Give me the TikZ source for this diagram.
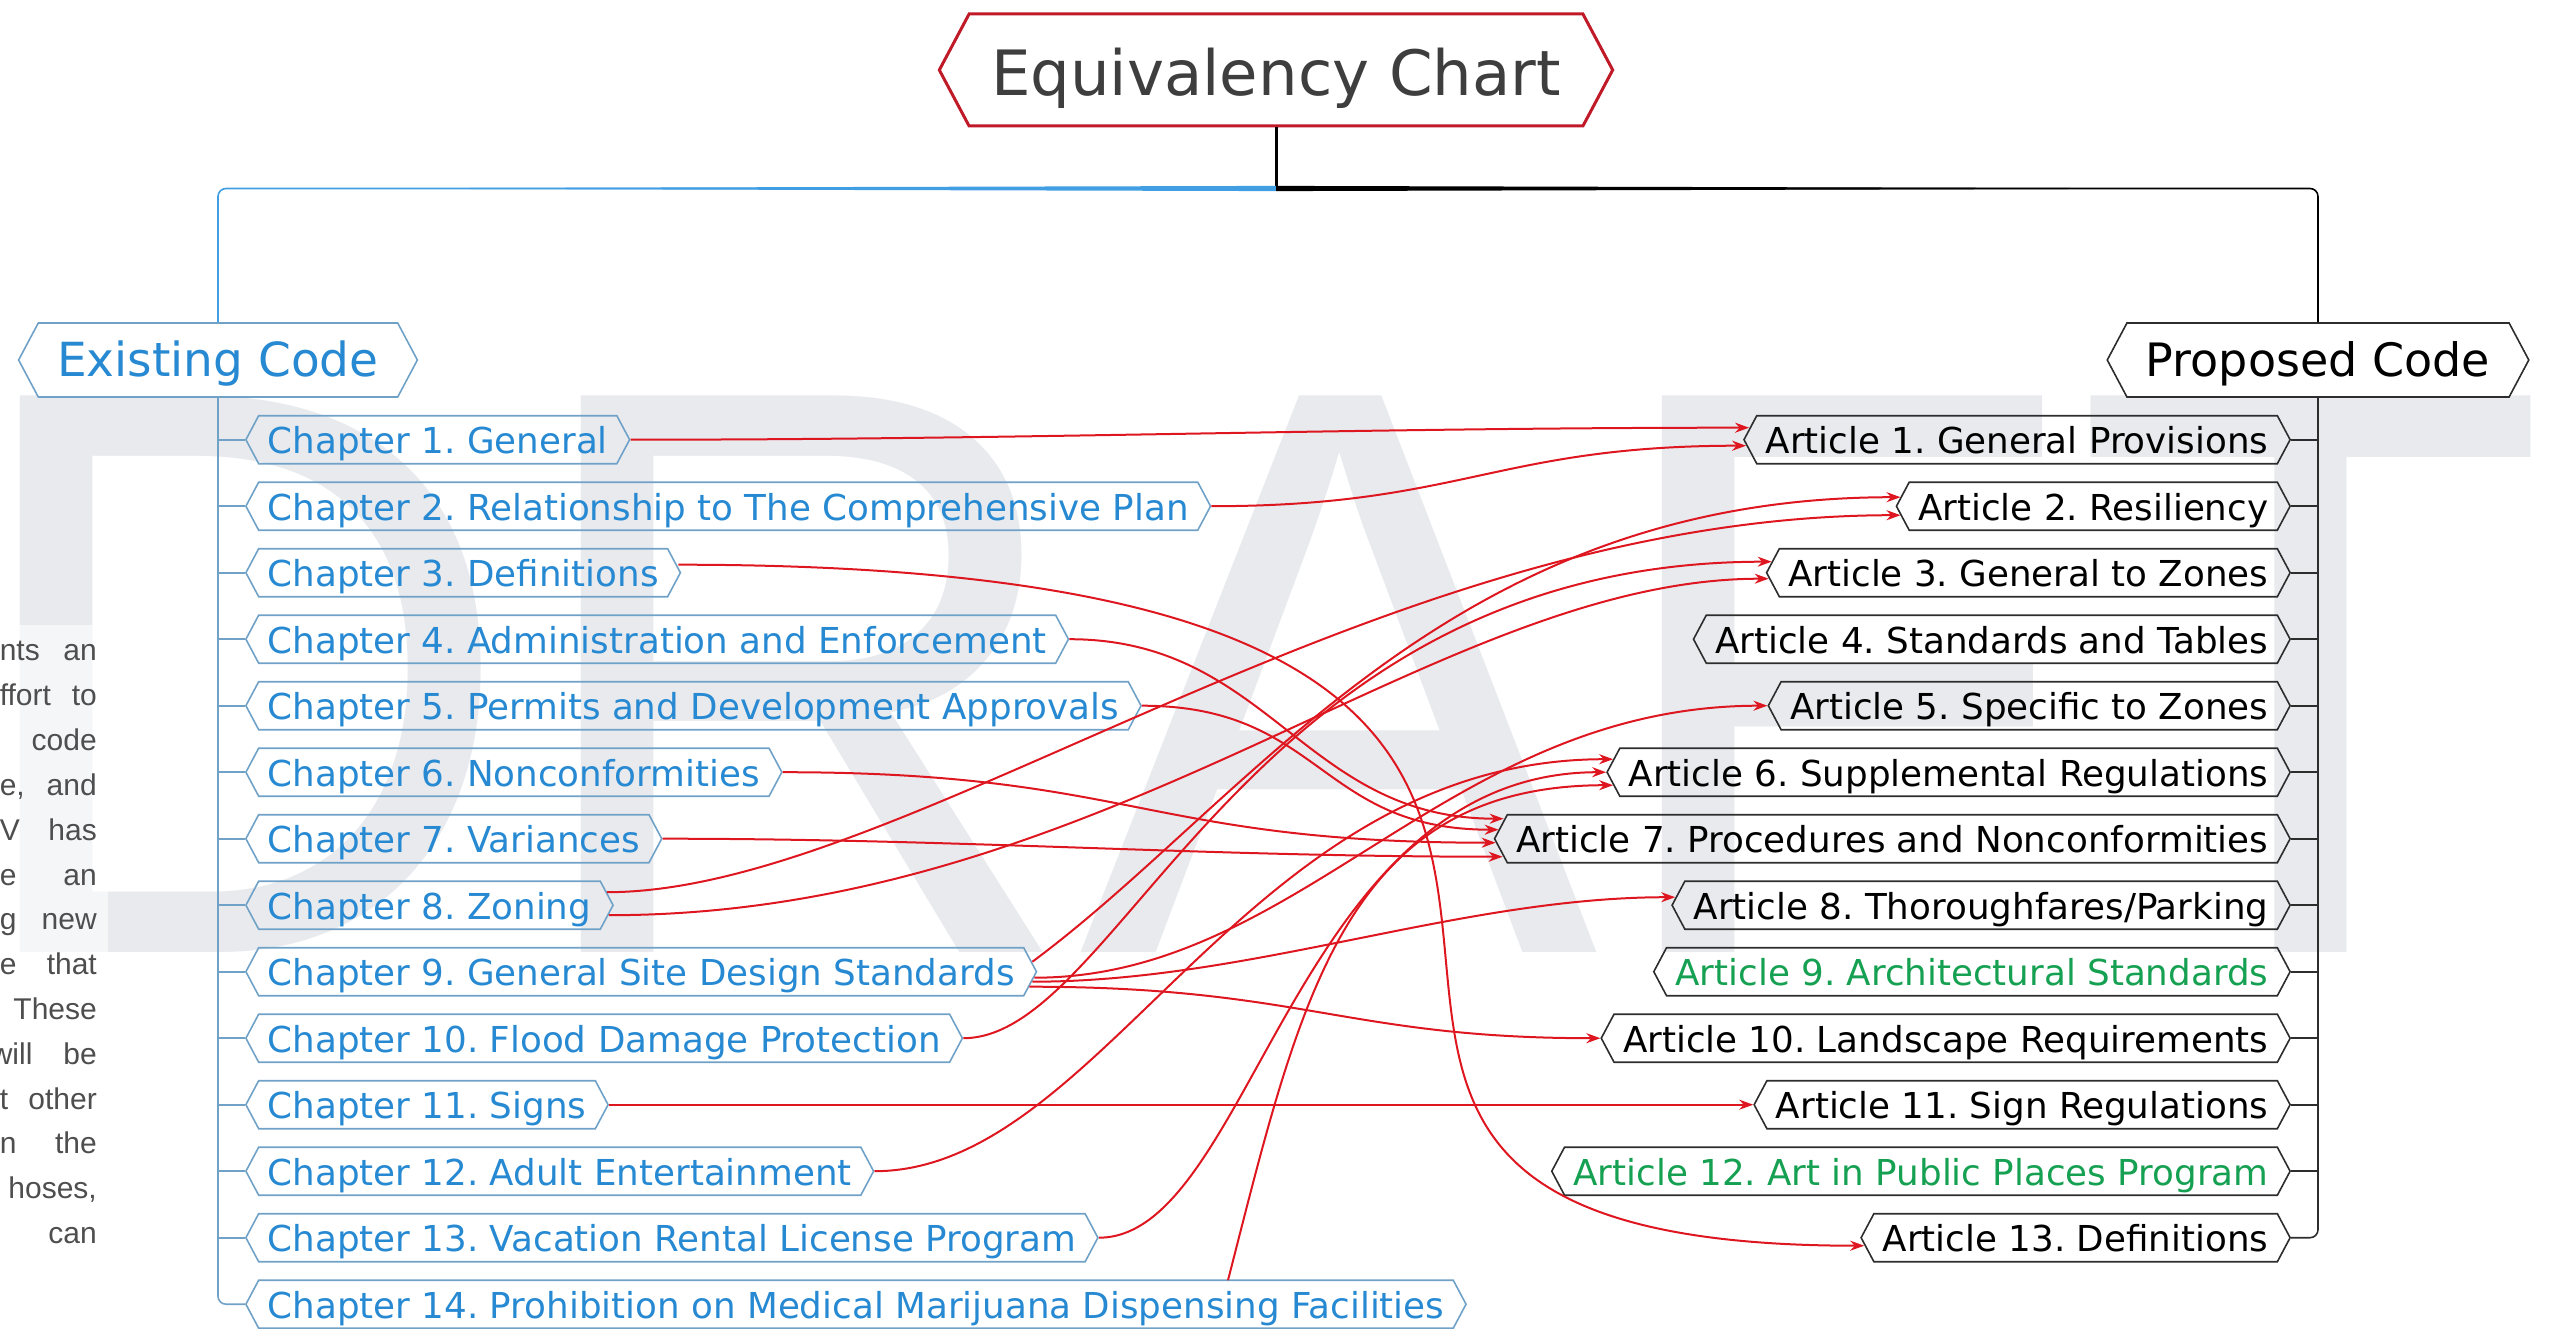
\documentclass[tikz,border=0pt]{standalone}
\usepackage{fontspec}
\setmainfont{DejaVu Sans}
\newfontfamily\arialfont{Liberation Sans}
\usetikzlibrary{shapes.symbols,arrows.meta,calc}

\definecolor{chaptext}{RGB}{38,137,210}
\definecolor{chapline}{RGB}{112,162,200}
\definecolor{trunkblue}{RGB}{66,158,226}
\definecolor{artline}{RGB}{45,45,45}
\definecolor{artgreen}{RGB}{22,160,82}
\definecolor{relred}{RGB}{222,22,32}
\definecolor{titlered}{RGB}{192,26,40}
\definecolor{titlegray}{RGB}{62,62,62}
\definecolor{wmgray}{RGB}{232,234,238}
\definecolor{paragray}{RGB}{78,78,78}

% justified line of the side paragraph
\newcommand{\pjust}[2][97pt]{\makebox[#1][s]{#2}}

\begin{document}
\frenchspacing
\begin{tikzpicture}[x=1pt,y=-1pt,
  hexbox/.style={shape=signal, signal to=west and east, signal pointer angle=124, inner ysep=0pt},
  chap/.style={hexbox, draw=chapline, line width=1.6pt, text=chaptext, inner xsep=9pt,
    minimum height=48pt, text height=32pt, text depth=4pt,
    font=\fontsize{35.7}{40}\selectfont, anchor=west},
  art/.style={hexbox, draw=artline, line width=1.6pt, text=black, inner xsep=9pt,
    minimum height=48pt, text height=32pt, text depth=4pt,
    font=\fontsize{35.7}{40}\selectfont, anchor=east},
  newart/.style={art, text=artgreen},
  rel/.style={draw=relred, line width=2pt, -{Stealth[length=14pt,width=10pt]}},
  chapstub/.style={draw=chapline, line width=1.6pt},
  artstub/.style={draw=artline, line width=1.6pt},
  para/.style={text=paragray, inner sep=0pt, font=\arialfont\fontsize{30}{34}\selectfont, anchor=base east},
]
\useasboundingbox (0,0) rectangle (2553,1329);

% DRAFT watermark behind the chart
\node[anchor=base west, inner sep=0pt, text=wmgray,
      font=\arialfont\fontsize{778}{778}\selectfont] (wm) at (0,952) {\hspace{-44pt}\scalebox{1}[1.04]{DRAFT}};
\fill[white, opacity=0.6] (0,625) rectangle (108,1329);

% cropped paragraph at the left edge
\node[para] (p1)  at (97,660) {\pjust{nts an}};
\node[para] (p2)  at (97,705) {\pjust{ffort to}};
\node[para] (p3)  at (97,750) {code};
\node[para] (p4)  at (97,795) {\pjust{e, and}};
\node[para] (p5)  at (97,840) {\pjust{V has}};
\node[para] (p6)  at (97,885) {\pjust{e an}};
\node[para] (p7)  at (97,929) {\pjust{g new}};
\node[para] (p8)  at (97,974) {\pjust{e that}};
\node[para] (p9)  at (97,1019) {These};
\node[para] (p10) at (97,1064) {\pjust[106pt]{will be}};
\node[para] (p11) at (97,1109) {\pjust{t other}};
\node[para] (p12) at (97,1153) {\pjust{n the}};
\node[para] (p13) at (97,1198) {hoses,};
\node[para] (p14) at (97,1243) {can};

% root and main branches
\node[hexbox, fill=white, draw=titlered, line width=3pt, text=titlegray, inner xsep=22pt,
      minimum height=112pt, text height=60pt, text depth=8pt,
      font=\fontsize{62.5}{70}\selectfont] (title) at (1276,70) {Equivalency Chart};
\node[hexbox, fill=white, draw=chapline, line width=1.6pt, text=chaptext, inner xsep=19pt,
      minimum height=74pt, text height=40pt, text depth=6pt,
      font=\fontsize{47}{52}\selectfont] (ex) at (218,360) {Existing Code};
\node[hexbox, fill=white, draw=artline, line width=1.6pt, text=black, inner xsep=19pt,
      minimum height=74pt, text height=40pt, text depth=6pt,
      font=\fontsize{46}{52}\selectfont] (pc) at (2318,360) {Proposed Code};

% chapters of the existing code
\node[chap] (c1)  at (245,439.7)  {Chapter 1. General};
\node[chap] (c2)  at (245,506.2)  {Chapter 2. Relationship to The Comprehensive Plan};
\node[chap] (c3)  at (245,572.7)  {Chapter 3. Definitions};
\node[chap] (c4)  at (245,639.2)  {Chapter 4. Administration and Enforcement};
\node[chap] (c5)  at (245,705.7)  {Chapter 5. Permits and Development Approvals};
\node[chap] (c6)  at (245,772.2)  {Chapter 6. Nonconformities};
\node[chap] (c7)  at (245,838.7)  {Chapter 7. Variances};
\node[chap] (c8)  at (245,905.2)  {Chapter 8. Zoning};
\node[chap] (c9)  at (245,971.7)  {Chapter 9. General Site Design Standards};
\node[chap] (c10) at (245,1038.2) {Chapter 10. Flood Damage Protection};
\node[chap] (c11) at (245,1104.7) {Chapter 11. Signs};
\node[chap] (c12) at (245,1171.2) {Chapter 12. Adult Entertainment};
\node[chap] (c13) at (245,1237.7) {Chapter 13. Vacation Rental License Program};
\node[chap] (c14) at (245,1304.2) {Chapter 14. Prohibition on Medical Marijuana Dispensing Facilities};

% articles of the proposed code
\node[art] (a1)  at (2291,439.7)  {Article 1. General Provisions};
\node[art] (a2)  at (2291,506.2)  {Article 2. Resiliency};
\node[art] (a3)  at (2291,572.7)  {Article 3. General to Zones};
\node[art] (a4)  at (2291,639.2)  {Article 4. Standards and Tables};
\node[art] (a5)  at (2291,705.7)  {Article 5. Specific to Zones};
\node[art] (a6)  at (2291,772.2)  {Article 6. Supplemental Regulations};
\node[art] (a7)  at (2291,838.7)  {Article 7. Procedures and Nonconformities};
\node[art] (a8)  at (2291,905.2)  {Article 8. Thoroughfares/Parking};
\node[newart] (a9)  at (2291,971.7)  {Article 9. Architectural Standards};
\node[art] (a10) at (2291,1038.2) {Article 10. Landscape Requirements};
\node[art] (a11) at (2291,1104.7) {Article 11. Sign Regulations};
\node[newart] (a12) at (2291,1171.2) {Article 12. Art in Public Places Program};
\node[art] (a13) at (2291,1237.7) {Article 13. Definitions};

% tree lines
\coordinate (hub) at ($(title.south)+(0,61)$);
\draw[black, line width=3pt] (title.south) -- (hub);
\draw[trunkblue, line width=1.6pt, rounded corners=8pt] (hub) -| (ex.north);
\fill[trunkblue] ($(hub)+(0,-2.6)$) -- ($(hub)+(0,2.6)$) -- ($(hub -| ex.north)+(60,0)$) -- cycle;
\draw[black, line width=1.6pt, rounded corners=8pt] (hub) -| (pc.north);
\fill[black] ($(hub)+(0,-2.6)$) -- ($(hub)+(0,2.6)$) -- ($(hub -| pc.north)+(-60,0)$) -- cycle;

\draw[chapstub, rounded corners=8pt] (ex.south) |- (c14.west);
\foreach \k in {1,...,13} \draw[chapstub] (ex.south |- c\k.west) -- (c\k.west);
\draw[artstub, rounded corners=8pt] (pc.south) |- (a13.east);
\foreach \k in {1,...,12} \draw[artstub] (pc.south |- a\k.east) -- (a\k.east);

% equivalency relations
\draw[rel] (c1.east) .. controls +(400,0) and +(-400,0) .. ($(a1.west)+(6,-12)$);
\draw[rel] (c2.east) .. controls +(250,0) and +(-250,0) .. ($(a1.west)+(3,6)$);
\draw[rel] ($(c3.east)+(-3,-8)$) .. controls +(1320,0) and +(-867,0) .. ($(a13.west)+(4,8)$);
\draw[rel] (c4.east) .. controls +(200,0) and +(-200,0) .. ($(a7.west)+(10,-20)$);
\draw[rel] (c5.east) .. controls +(180,0) and +(-180,0) .. ($(a7.west)+(5,-9)$);
\draw[rel] (c6.east) .. controls +(350,0) and +(-350,0) .. ($(a7.west)+(2,4)$);
\draw[rel] (c7.east) .. controls +(300,0) and +(-300,0) .. ($(a7.west)+(9,18)$);
\draw[rel] ($(c8.east)+(-7,-13)$) .. controls +(300,0) and +(-530,0) .. ($(a2.west)+(5,9)$);
\draw[rel] ($(c8.east)+(-5,10)$) .. controls +(500,0) and +(-333,0) .. ($(a3.west)+(3,6)$);
\draw[rel] ($(c9.east)+(-5,-10)$) .. controls +(219,-162) and +(-453,0) .. ($(a2.west)+(5,-9)$);
\draw[rel] (c10.east) .. controls +(160,0) and +(-526,0) .. ($(a3.west)+(6,-11)$);
\draw[rel] ($(c9.east)+(-3,6)$) .. controls +(267,0) and +(-320,0) .. (a5.west);
\draw[rel] ($(c9.east)+(-5,10)$) .. controls +(219,0) and +(-217,0) .. ($(a8.west)+(4,-8)$);
\draw[rel] ($(c9.east)+(-8,15)$) .. controls +(272,0) and +(-254,0) .. (a10.west);
\draw[rel] (c11.east) .. controls +(300,0) and +(-300,0) .. (a11.west);
\draw[rel] (c12.east) .. controls +(230,0) and +(-369,0) .. ($(a6.west)+(7,-13)$);
\draw[rel] (c13.east) .. controls +(153,0) and +(-312,0) .. (a6.west);
\draw[rel] ($(c14.west)+(983,-24)$) .. controls +(72,-280) and +(-269,0) .. ($(a6.west)+(7,13)$);
\end{tikzpicture}
\end{document}
